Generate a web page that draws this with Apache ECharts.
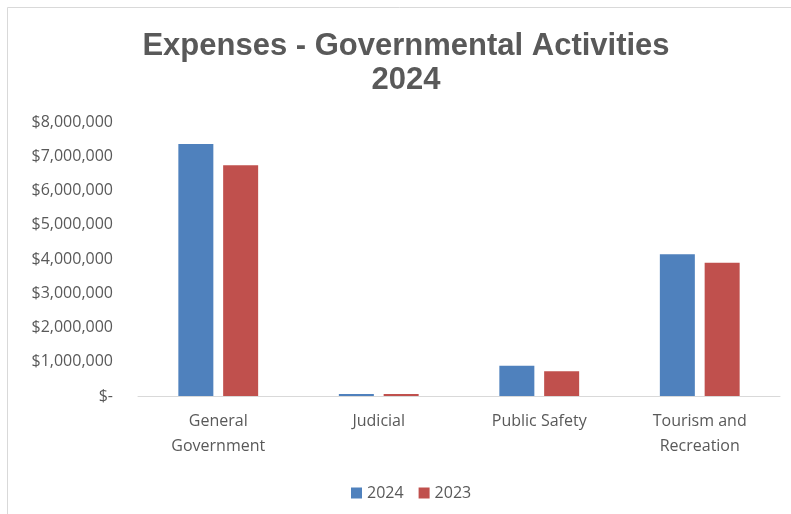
<!DOCTYPE html>
<html>
<head>
<meta charset="utf-8">
<script src="https://cdn.jsdelivr.net/npm/echarts@6/dist/echarts.min.js"></script>
<style>
  html, body { margin: 0; padding: 0; background: #fff; }
  #chart { width: 791px; height: 514px; }
</style>
</head>
<body>
<div id="chart"></div>
<script>
// Expense categories and yearly totals (USD)
const categories = ['General\nGovernment', 'Judicial', 'Public Safety', 'Tourism and\nRecreation'];
const expenses2024 = [7360000, 60000, 880000, 4140000];
const expenses2023 = [6740000, 55000, 720000, 3890000];
const seriesNames = ['2024', '2023'];

const textColor = '#595959';
const labelFont = '"Open Sans", "Noto Sans", sans-serif';

function money(v) {
  if (v === 0) return '$-';
  return '$' + v.toLocaleString('en-US');
}

const chart = echarts.init(document.getElementById('chart'), null, { renderer: 'canvas' });
chart.setOption({
  backgroundColor: '#ffffff',
  animation: false,
  title: {
    text: 'Expenses - Governmental Activities\n2024',
    left: 401,
    textAlign: 'center',
    top: 24,
    textStyle: {
      fontFamily: '"Liberation Sans", Arial, sans-serif',
      fontWeight: 'bold',
      fontSize: 31,
      lineHeight: 34,
      color: textColor
    }
  },
  graphic: [{
    type: 'rect',
    shape: { x: 7.5, y: 7.5, width: 800, height: 520 },
    style: { fill: 'none', stroke: '#d9d9d9', lineWidth: 1 },
    silent: true
  }],
  legend: {
    data: seriesNames,
    top: 480,
    left: 346,
    itemWidth: 11,
    itemHeight: 11,
    itemGap: 15,
    icon: 'rect',
    textStyle: { fontFamily: labelFont, fontSize: 16, color: textColor }
  },
  grid: { left: 138, right: 11, top: 122, bottom: 118, containLabel: false },
  xAxis: {
    type: 'category',
    data: categories,
    axisLine: { show: true, lineStyle: { color: '#d9d9d9', width: 1 } },
    axisTick: { show: false },
    axisLabel: {
      interval: 0,
      margin: 13,
      fontFamily: labelFont,
      fontSize: 16,
      lineHeight: 25,
      color: textColor
    }
  },
  yAxis: {
    type: 'value',
    min: 0,
    max: 8000000,
    interval: 1000000,
    splitLine: { show: false },
    axisLine: { show: false },
    axisTick: { show: false },
    axisLabel: {
      margin: 25,
      fontFamily: labelFont,
      fontSize: 16,
      color: textColor,
      formatter: money
    }
  },
  series: [
    {
      name: seriesNames[0],
      type: 'bar',
      data: expenses2024,
      barWidth: 35,
      barGap: '28%',
      itemStyle: { color: '#4f81bd' }
    },
    {
      name: seriesNames[1],
      type: 'bar',
      data: expenses2023,
      barWidth: 35,
      barGap: '28%',
      itemStyle: { color: '#c0504d' }
    }
  ]
});
</script>
</body>
</html>
